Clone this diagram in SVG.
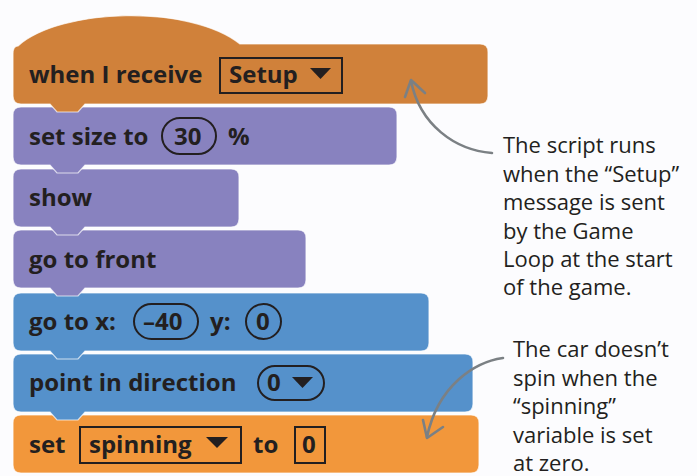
<svg xmlns="http://www.w3.org/2000/svg" width="697" height="476" viewBox="0 0 697 476">
<defs>
<style>
.blk{stroke:#ffffff;stroke-opacity:0.7;stroke-width:1.2}
.hat{fill:#D0813A}
.pur{fill:#8882BF}
.blu{fill:#5591CB}
.org{fill:#F2973B}
.bt{font-family:"Open Sans","Noto Sans",sans-serif;font-weight:700;font-size:24px;fill:#231F20}
.slot{fill:none;stroke:#231F20;stroke-width:2}
.note{font-family:"Open Sans","Noto Sans",sans-serif;font-size:22px;fill:#231F20}
.arr{fill:none;stroke:#7B8084;stroke-width:2.6;stroke-linecap:round;stroke-linejoin:round}
</style>
</defs>
<rect width="697" height="476" fill="#FCFCFE"/>

<g id="block-set-spinning">
<path class="blk org" d="M21,415 L471,415 Q479,415 479,423 L479,465 Q479,473 471,473 L21,473 Q13,473 13,465 L13,423 Q13,415 21,415 Z"/>
<text class="bt" x="29" y="453">set</text>
<rect class="slot" x="80" y="427" width="161" height="36"/>
<text class="bt" x="89" y="453">spinning</text>
<path d="M206,437 L228,437 L217,448 Z" fill="#231F20"/>
<text class="bt" x="253" y="453">to</text>
<rect class="slot" x="295" y="427" width="30" height="36"/>
<text class="bt" x="302" y="453">0</text>
</g>

<g id="block-point-direction">
<path class="blk blu" d="M21,354 L465,354 Q473,354 473,362 L473,404 Q473,412 465,412 L85,412 L78,420 L57,420 L50,412 L21,412 Q13,412 13,404 L13,362 Q13,354 21,354 Z"/>
<text class="bt" x="29" y="391">point in direction</text>
<rect class="slot" x="258" y="366" width="66" height="34" rx="17"/>
<text class="bt" x="267" y="391">0</text>
<path d="M292,377 L313,377 L302.5,388 Z" fill="#231F20"/>
</g>

<g id="block-go-to-xy">
<path class="blk blu" d="M21,293 L421,293 Q429,293 429,301 L429,343 Q429,351 421,351 L85,351 L78,359 L57,359 L50,351 L21,351 Q13,351 13,343 L13,301 Q13,293 21,293 Z"/>
<text class="bt" x="29" y="330">go to x:</text>
<rect class="slot" x="134" y="304" width="64" height="35" rx="17.5"/>
<text class="bt" x="143" y="330">–40</text>
<text class="bt" x="210" y="330">y:</text>
<rect class="slot" x="246" y="304" width="35" height="35" rx="17.5"/>
<text class="bt" x="256" y="330">0</text>
</g>

<g id="block-go-to-front">
<path class="blk pur" d="M21,230 L298,230 Q306,230 306,238 L306,280 Q306,288 298,288 L85,288 L78,296 L57,296 L50,288 L21,288 Q13,288 13,280 L13,238 Q13,230 21,230 Z"/>
<text class="bt" x="29" y="268">go to front</text>
</g>

<g id="block-show">
<path class="blk pur" d="M21,169 L231,169 Q239,169 239,177 L239,219 Q239,227 231,227 L85,227 L78,235 L57,235 L50,227 L21,227 Q13,227 13,219 L13,177 Q13,169 21,169 Z"/>
<text class="bt" x="29" y="206">show</text>
</g>

<g id="block-set-size">
<path class="blk pur" d="M21,107 L389,107 Q397,107 397,115 L397,157 Q397,165 389,165 L85,165 L78,173 L57,173 L50,165 L21,165 Q13,165 13,157 L13,115 Q13,107 21,107 Z"/>
<text class="bt" x="29" y="145">set size to</text>
<rect class="slot" x="162" y="118" width="54" height="36" rx="18"/>
<text class="bt" x="174" y="145">30</text>
<text class="bt" x="228" y="145">%</text>
</g>

<g id="block-when-receive">
<path class="blk hat" d="M13,54 Q13,46 18,46 C60,8 190,4 240,44 L480,44 Q488,44 488,52 L488,96 Q488,104 480,104 L85,104 L78,112 L57,112 L50,104 L21,104 Q13,104 13,96 Z"/>
<text class="bt" x="29" y="83">when I receive</text>
<rect class="slot" x="220" y="58" width="122" height="35"/>
<text class="bt" x="229" y="83">Setup</text>
<path d="M310,68 L331,68 L320.5,79 Z" fill="#231F20"/>
</g>

<g id="connectors">
<path class="arr" d="M492,153 C455,150 420,125 411,81"/>
<path class="arr" d="M405,97 L411,80 L425,93"/>
<path class="arr" d="M503,358 C475,362 438,385 427,437"/>
<path class="arr" d="M423,420 L427,438 L443,427"/>
</g>

<g id="note-setup">
<text class="note" x="503" y="153">The script runs</text>
<text class="note" x="503" y="182">when the “Setup”</text>
<text class="note" x="503" y="210">message is sent</text>
<text class="note" x="503" y="239">by the Game</text>
<text class="note" x="503" y="267">Loop at the start</text>
<text class="note" x="503" y="295">of the game.</text>
</g>

<g id="note-spinning">
<text class="note" x="513" y="357">The car doesn’t</text>
<text class="note" x="513" y="386">spin when the</text>
<text class="note" x="513" y="414">“spinning”</text>
<text class="note" x="513" y="443">variable is set</text>
<text class="note" x="513" y="471">at zero.</text>
</g>
</svg>
